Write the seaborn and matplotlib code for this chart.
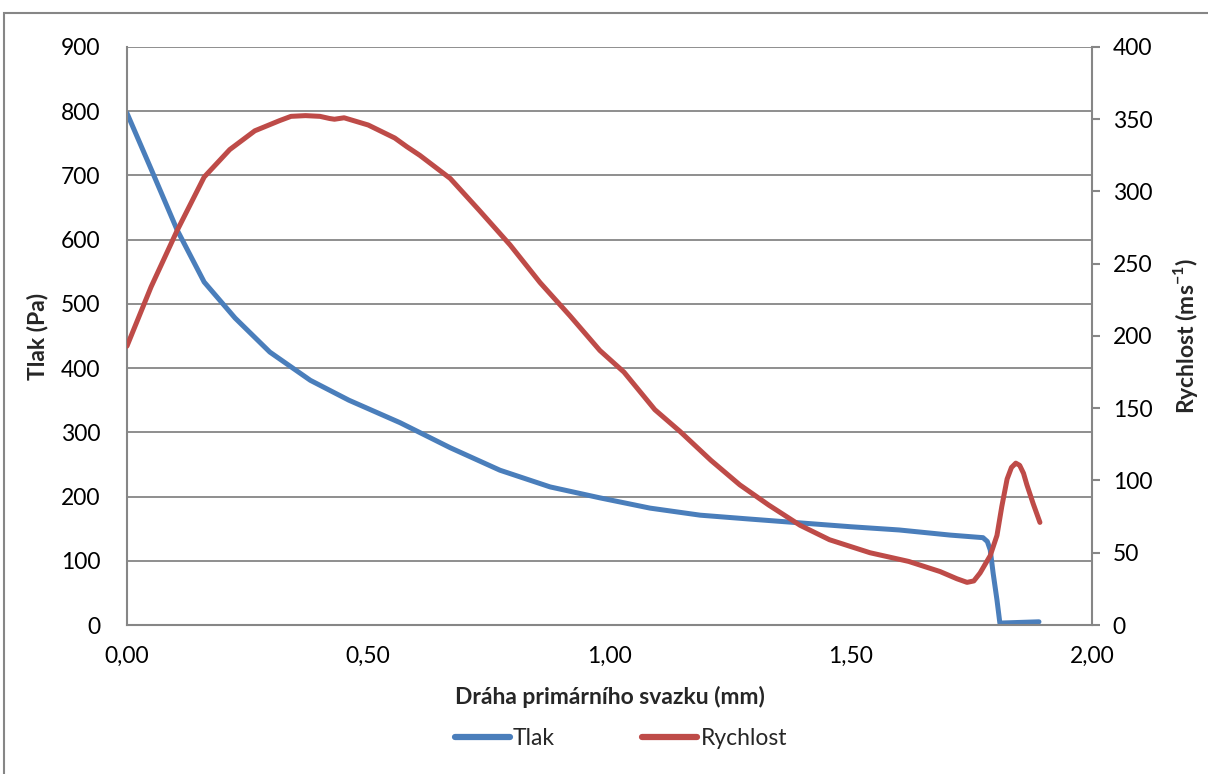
import matplotlib
matplotlib.use("Agg")
import matplotlib.pyplot as plt
import matplotlib.patches as mpatches
from matplotlib.ticker import FuncFormatter, MultipleLocator
import seaborn as sns
import pandas as pd

sns.set_theme(style="white")
plt.rcParams["font.family"] = ["Lato", "DejaVu Sans"]
plt.rcParams["mathtext.fontset"] = "custom"
plt.rcParams["mathtext.rm"] = "Lato"
plt.rcParams["mathtext.bf"] = "Lato:bold"

# Pressure along the primary beam path
tlak_x = [0.00, 0.05, 0.104, 0.16, 0.224, 0.296, 0.38, 0.46, 0.566, 0.67, 0.773,
          0.877, 0.98, 1.084, 1.188, 1.29, 1.395, 1.50, 1.60, 1.706, 1.774,
          1.783, 1.789, 1.795, 1.803, 1.809, 1.89]
tlak_y = [797, 710, 615, 534, 478, 425, 381, 350, 315, 276, 241,
          215, 198, 182, 171, 165, 159, 153, 148, 140, 136,
          130, 117, 81, 39, 3, 5]

# Velocity along the primary beam path
rychlost_x = [0.00, 0.05, 0.104, 0.16, 0.213, 0.265, 0.316, 0.34, 0.37, 0.40, 0.42,
              0.43, 0.45, 0.47, 0.50, 0.555, 0.58, 0.607, 0.67, 0.73, 0.794,
              0.856, 0.918, 0.98, 1.03, 1.094, 1.146, 1.21, 1.27, 1.33, 1.395,
              1.456, 1.54, 1.62, 1.685, 1.72, 1.741, 1.755, 1.768, 1.789, 1.803,
              1.813, 1.824, 1.833, 1.842, 1.85, 1.858, 1.865, 1.878, 1.892]
rychlost_y = [193, 234, 273, 310, 329, 342, 349, 352, 352.5, 352, 350.5,
              350, 351, 349, 346, 337, 331, 325, 309, 287, 263,
              237, 214, 190, 175, 149, 134, 114, 97, 83, 69,
              59, 50, 44, 37, 32, 29.5, 30.5, 36, 48, 62,
              82, 101, 109, 112, 110.5, 105, 97, 84, 71]

x_ticks = [0.0, 0.5, 1.0, 1.5, 2.0]

blue = "#4A7EBB"
red = "#BE4B48"
grid_gray = "#868686"
fs = 16.5

df_t = pd.DataFrame({"x": tlak_x, "y": tlak_y})
df_r = pd.DataFrame({"x": rychlost_x, "y": rychlost_y})

fig = plt.figure(figsize=(12.08, 7.74), dpi=100)
ax = fig.add_axes([0.1051, 0.1925, 0.7989, 0.7468])
ax2 = ax.twinx()

sns.lineplot(data=df_t, x="x", y="y", ax=ax, color=blue, linewidth=3.6,
             sort=False, estimator=None, legend=False)
sns.lineplot(data=df_r, x="x", y="y", ax=ax2, color=red, linewidth=3.6,
             sort=False, estimator=None, legend=False)
for a in (ax, ax2):
    for ln in a.get_lines():
        ln.set_solid_joinstyle("round")
        ln.set_solid_capstyle("round")

ax.set_xlim(0, 2.0)
ax.set_ylim(0, 900)
ax2.set_ylim(0, 400)
ax.set_xticks(x_ticks)
ax.yaxis.set_major_locator(MultipleLocator(100))
ax2.yaxis.set_major_locator(MultipleLocator(50))
ax.xaxis.set_major_formatter(FuncFormatter(lambda v, p: f"{v:.2f}".replace(".", ",")))

ax.grid(axis="y", color=grid_gray, linewidth=1.3)
ax.set_axisbelow(True)

for a in (ax, ax2):
    a.spines["top"].set_visible(False)
    for side in ("left", "right", "bottom"):
        a.spines[side].set_color(grid_gray)
        a.spines[side].set_linewidth(1.5)
ax.spines["right"].set_visible(False)
ax2.spines["left"].set_visible(False)
ax2.spines["bottom"].set_visible(False)

ax.tick_params(axis="y", left=True, length=0, labelsize=fs, labelcolor="black", pad=19)
ax.tick_params(axis="x", bottom=True, length=0, labelsize=fs, labelcolor="black", pad=15)
ax2.tick_params(axis="y", right=True, direction="out", length=6, width=1.5,
                color=grid_gray, labelsize=fs, labelcolor="black", pad=9)

ax.set_xlabel("Dráha primárního svazku (mm)", fontsize=fs, fontweight="bold")
ax.set_ylabel("Tlak (Pa)", fontsize=fs, fontweight="bold")
ax2.set_ylabel("Rychlost (ms$^{\\mathbf{-1}}$)", fontsize=fs, fontweight="bold")
for lab in (ax.xaxis.label, ax.yaxis.label, ax2.yaxis.label):
    lab.set_ha("center")
    lab.set_va("center")
ax.xaxis.set_label_coords(0.5, -0.1246)
ax.yaxis.set_label_coords(-0.0922, 0.5)
ax2.yaxis.set_label_coords(1.0964, 0.5)

handles = [plt.Line2D([], [], color=blue, linewidth=4.5),
           plt.Line2D([], [], color=red, linewidth=4.5)]
fig.legend(handles, ["Tlak", "Rychlost"], loc="center", bbox_to_anchor=(0.514, 0.046),
           ncol=2, frameon=False, fontsize=fs, handlelength=2.4, handletextpad=0.15,
           columnspacing=3.8)

# Outer chart frame
fig.patches.append(mpatches.Rectangle((4 / 1208, -0.1), 1.2, (774 - 13) / 774 + 0.1,
                                      transform=fig.transFigure, fill=False,
                                      edgecolor=grid_gray, linewidth=1.5))

fig.savefig("out.png", dpi=100)
